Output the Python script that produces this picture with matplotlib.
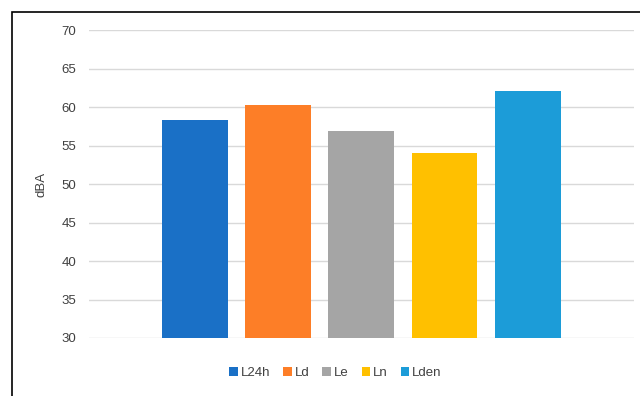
import matplotlib.pyplot as plt
from matplotlib.patches import Rectangle
import numpy as np

# noise indicators, values in dBA
labels = ['L24h', 'Ld', 'Le', 'Ln', 'Lden']
values = [58.4, 60.3, 56.9, 54.0, 62.1]
colors = ['#1a70c6', '#fd7e27', '#a5a5a5', '#ffc000', '#1c9cd8']
yticks = [30, 35, 40, 45, 50, 55, 60, 65, 70]

plt.rcParams['font.family'] = ['Liberation Sans', 'DejaVu Sans']

fig = plt.figure(figsize=(6.4, 3.96), dpi=100)
ax = fig.add_axes([0.139, 0.1465, 0.852, 0.7765])

x = np.arange(len(labels))
for i in range(len(labels)):
    ax.bar(x[i], values[i] - 30, bottom=30, width=0.79, color=colors[i],
           label=labels[i], zorder=3)

ax.set_ylim(30, 70)
ax.set_xlim(-1.27, 5.28)
ax.set_yticks(yticks)
ax.set_xticks([])
ax.grid(axis='y', color='#d9d9d9', linewidth=1, zorder=0)
for s in ax.spines.values():
    s.set_visible(False)
ax.tick_params(axis='y', length=0, pad=9, labelsize=9.5, labelcolor='#404040')
ax.set_ylabel('dBA', fontsize=9.5, color='#404040', labelpad=10)

ax.legend(loc='upper center', bbox_to_anchor=(0.452, -0.055), ncol=5,
          frameon=False, fontsize=9.5, handlelength=0.65, handleheight=0.65,
          handletextpad=0.2, columnspacing=1.0, labelcolor='#404040')

# outer frame of the chart area
fig.patches.append(Rectangle((12 / 640, -0.1), 1.2, 1 - 11.5 / 396 + 0.1,
                             transform=fig.transFigure, fill=False,
                             edgecolor='black', linewidth=1.2))

fig.savefig('out.png', dpi=100)
